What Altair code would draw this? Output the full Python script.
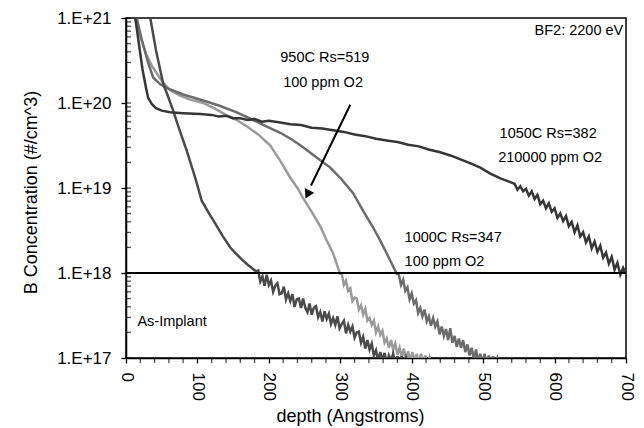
import altair as alt
import pandas as pd

# ---------------- data ----------------
series_names = ["As-Implant", "950C", "1000C", "1050C"]
series_colors = ["#4a4a4a", "#9a9a9a", "#6c6c6c", "#363636"]

asimp_depth = [28, 34, 42, 52, 60, 66, 75, 85, 98, 106, 115, 125, 135, 146, 155, 162, 170, 176, 182,
               185, 188, 191, 194, 197, 200, 203, 206, 209, 212, 215, 218, 221, 224, 227, 230, 233,
               236, 239, 242, 245, 248, 251, 254, 257, 260, 263, 266, 269, 272, 275, 278, 281, 284,
               287, 290, 293, 296, 299, 302, 305, 308, 311, 314, 317, 320, 323, 326, 329, 332, 335,
               338, 341, 344, 347, 350, 353, 356, 359, 362, 365, 368, 371, 374, 377, 380, 383, 386,
               389, 392, 395, 398]
asimp_log = [21.1, 21.0, 20.62, 20.23, 20.05, 19.91, 19.68, 19.44, 19.09, 18.85, 18.72, 18.58, 18.44,
             18.30, 18.22, 18.16, 18.10, 18.06, 18.02,
             18.03, 17.90, 17.96, 17.85, 17.98, 17.86, 17.91, 17.78, 17.85, 17.88, 17.75, 17.76,
             17.84, 17.69, 17.76, 17.67, 17.75, 17.60, 17.69, 17.70, 17.59, 17.70, 17.59, 17.54,
             17.64, 17.51, 17.59, 17.61, 17.48, 17.54, 17.43, 17.55, 17.46, 17.52, 17.40, 17.47,
             17.39, 17.49, 17.35, 17.40, 17.44, 17.29, 17.39, 17.31, 17.37, 17.24, 17.30, 17.31,
             17.18, 17.25, 17.11, 17.21, 17.10, 17.17, 17.03, 17.09, 16.97, 17.07, 16.97, 17.06,
             16.93, 17.03, 16.97, 17.05, 16.93, 17.02, 16.91, 17.02, 16.91, 17.00, 16.90, 16.98]

c950_depth = [11, 13, 20, 28, 36, 43, 52, 62, 75, 90, 108, 125, 140, 155, 170, 185, 202, 216, 230,
              240, 248, 260, 272, 280, 290, 296, 300,
              302, 305, 308, 311, 314, 317, 320, 323, 326, 329, 332, 335, 338, 341, 344, 347, 350,
              353, 356, 359, 362, 365, 368, 371, 374, 377, 380, 383, 386, 389, 392, 395, 398, 401,
              404, 407, 410, 413, 416, 419, 422, 425, 428]
c950_log = [21.15, 21.0, 20.78, 20.58, 20.44, 20.35, 20.24, 20.15, 20.09, 20.04, 20.0, 19.93, 19.86,
            19.80, 19.72, 19.63, 19.50, 19.32, 19.12, 19.0, 18.88, 18.72, 18.55, 18.40, 18.23,
            18.08, 17.99,
            17.99, 17.86, 17.91, 17.79, 17.82, 17.67, 17.71, 17.70, 17.57, 17.62, 17.51, 17.58,
            17.44, 17.47, 17.39, 17.44, 17.30, 17.37, 17.27, 17.32, 17.18, 17.23, 17.12, 17.21,
            17.10, 17.17, 17.04, 17.12, 17.01, 17.11, 16.98, 17.08, 16.96, 17.07, 16.95, 17.05,
            16.94, 17.05, 16.93, 17.03, 16.93, 17.01, 16.90]

c1000_depth = [12, 15, 22, 30, 38, 48, 59, 80, 108, 130, 155, 178, 198, 216, 232, 248, 265, 286,
               302, 318, 332, 345, 356, 368, 379,
               382, 385, 388, 391, 394, 397, 400, 403, 406, 409, 412, 415, 418, 421, 424, 427, 430,
               433, 436, 439, 442, 445, 448, 451, 454, 457, 460, 463, 466, 469, 472, 475, 478, 481,
               484, 487, 490, 493, 496, 499, 502, 505, 508, 511, 514, 517, 520, 524]
c1000_log = [21.15, 21.0, 20.75, 20.5, 20.30, 20.22, 20.17, 20.10, 20.03, 19.97, 19.89, 19.80,
             19.72, 19.65, 19.57, 19.48, 19.37, 19.24, 19.10, 18.94, 18.73, 18.55, 18.38, 18.18,
             17.99,
             17.98, 17.86, 17.92, 17.79, 17.83, 17.69, 17.76, 17.64, 17.68, 17.53, 17.59, 17.49,
             17.57, 17.43, 17.49, 17.38, 17.47, 17.37, 17.43, 17.28, 17.37, 17.26, 17.34, 17.21,
             17.35, 17.18, 17.26, 17.13, 17.23, 17.12, 17.21, 17.07, 17.16, 17.03, 17.12, 16.98,
             17.10, 16.96, 17.05, 16.94, 17.05, 16.93, 17.03, 16.92, 17.02, 16.92, 17.00, 16.90]

c1050_depth = [10, 13, 18, 23, 28, 31, 36, 42, 50, 62, 80, 104, 120, 130, 140, 150, 160, 170, 180,
               190, 200, 216, 230, 245, 260, 275, 290, 305, 320, 335, 350, 365, 380, 395, 410, 425,
               440, 455, 470, 485, 496, 510, 525,
               544, 548, 552, 556, 560, 564, 568, 572, 576, 580, 584, 588, 592, 596, 600, 604, 608,
               612, 616, 620, 624, 628, 632, 636, 640, 644, 648, 652, 656, 660, 664, 668, 672, 676,
               680, 684, 688, 692, 696, 700]
c1050_log = [21.15, 21.0, 20.7, 20.4, 20.18, 20.06, 19.99, 19.94, 19.91, 19.89, 19.88, 19.87, 19.86,
             19.84, 19.85, 19.82, 19.82, 19.80, 19.81, 19.78, 19.79, 19.77, 19.75, 19.74, 19.71,
             19.70, 19.68, 19.66, 19.63, 19.61, 19.58, 19.56, 19.54, 19.51, 19.49, 19.45, 19.42,
             19.38, 19.33, 19.28, 19.24, 19.17, 19.11,
             19.05, 18.98, 19.02, 18.96, 18.99, 18.91, 18.96, 18.87, 18.92, 18.81, 18.85, 18.76,
             18.82, 18.72, 18.76, 18.65, 18.70, 18.61, 18.67, 18.55, 18.60, 18.48, 18.56, 18.43,
             18.48, 18.36, 18.43, 18.29, 18.37, 18.25, 18.32, 18.18, 18.24, 18.11, 18.19, 18.04,
             18.12, 17.98, 18.06, 17.99]

x_major = [0, 100, 200, 300, 400, 500, 600, 700]
x_minor = [20, 40, 60, 80, 120, 140, 160, 180, 220, 240, 260, 280, 320, 340, 360, 380, 420, 440,
           460, 480, 520, 540, 560, 580, 620, 640, 660, 680]
y_major = [1e17, 1e18, 1e19, 1e20, 1e21]
y_minor = [2e17, 3e17, 4e17, 5e17, 6e17, 7e17, 8e17, 9e17,
           2e18, 3e18, 4e18, 5e18, 6e18, 7e18, 8e18, 9e18,
           2e19, 3e19, 4e19, 5e19, 6e19, 7e19, 8e19, 9e19,
           2e20, 3e20, 4e20, 5e20, 6e20, 7e20, 8e20, 9e20]

ref_level = [1e18]

ann_text = ["BF2: 2200 eV", "950C Rs=519", "100 ppm O2", "1050C Rs=382", "210000 ppm O2",
            "1000C Rs=347", "100 ppm O2", "As-Implant"]
ann_depth = [572, 216, 220, 523, 521, 390, 390, 16]
ann_log = [20.85, 20.53, 20.24, 19.63, 19.35, 18.41, 18.13, 17.42]

arrow_from = (314, 19.98)
arrow_to = (259, 19.03)
arrow_head = (255, 18.94)

# ---------------- tables ----------------
rows = []
for name, ds, ls in [("950C", c950_depth, c950_log), ("1000C", c1000_depth, c1000_log),
                     ("As-Implant", asimp_depth, asimp_log), ("1050C", c1050_depth, c1050_log)]:
    for i, (d, l) in enumerate(zip(ds, ls)):
        rows.append({"series": name, "depth": d, "conc": 10 ** l, "i": i})
df = pd.DataFrame(rows)

ann_df = pd.DataFrame({"label": ann_text, "depth": ann_depth, "conc": [10 ** v for v in ann_log]})
ref_df = pd.DataFrame({"conc": ref_level})
arrow_df = pd.DataFrame({"x": [arrow_from[0]], "y": [10 ** arrow_from[1]],
                         "x2": [arrow_to[0]], "y2": [10 ** arrow_to[1]]})
head_df = pd.DataFrame({"x": [arrow_head[0]], "y": [10 ** arrow_head[1]]})
xminor_df = pd.DataFrame({"depth": x_minor})
yminor_df = pd.DataFrame({"conc": y_minor + y_major})

FONT = "Liberation Sans"

x_enc = alt.X("depth:Q",
              scale=alt.Scale(domain=[0, 700], nice=False, zero=False),
              axis=alt.Axis(values=x_major, format="d",
                            labelAngle=90, labelOverlap=False, labelFlush=False,
                            labelPadding=9, tickSize=5, grid=False,
                            title="depth (Angstroms)", titleX=224, titleY=63,
                            titleBaseline="alphabetic", titleAlign="center"))
y_enc = alt.Y("conc:Q",
              scale=alt.Scale(type="log", domain=[1e17, 1e21], nice=False),
              axis=alt.Axis(values=y_major,
                            labelExpr="'1.E+' + round(log(datum.value)/LN10)",
                            labelOverlap=False, labelFlush=False, labelPadding=10, tickSize=5,
                            grid=False, title="B Concentration (#/cm^3)",
                            titleX=-95, titleY=174, titleAngle=-90, titleAlign="center",
                            titleBaseline="middle"))

lines = alt.Chart(df).mark_line(clip=True, strokeWidth=2.5, strokeJoin="miter").encode(
    x=x_enc, y=y_enc,
    color=alt.Color("series:N", scale=alt.Scale(domain=series_names, range=series_colors), legend=None),
    order="i:Q",
)

xminor = alt.Chart(xminor_df).mark_tick(color="black", thickness=1.3, size=5).encode(
    x="depth:Q", y=alt.value(342.5))
yminor = alt.Chart(yminor_df).mark_tick(color="black", thickness=1.3, size=5).encode(
    y="conc:Q", x=alt.value(2.5))

rule = alt.Chart(ref_df).mark_rule(color="black", strokeWidth=2).encode(y="conc:Q")

arrow = alt.Chart(arrow_df).mark_rule(color="black", strokeWidth=2).encode(
    x="x:Q", y="y:Q", x2="x2:Q", y2="y2:Q")
head = alt.Chart(head_df).mark_point(shape="triangle", filled=True, size=110, angle=206,
                                     color="black", opacity=1).encode(x="x:Q", y="y:Q")

texts = alt.Chart(ann_df).mark_text(align="left", baseline="middle", font=FONT, fontSize=14.5,
                                    color="black").encode(x="depth:Q", y="conc:Q", text="label:N")

chart = alt.layer(lines, xminor, yminor, rule, arrow, head, texts).properties(
    width=500, height=340,
    background="white",
    autosize=alt.AutoSizeParams(type="none"),
    padding={"left": 126, "top": 18, "right": 18, "bottom": 70},
).configure_view(stroke="black", strokeWidth=1.5).configure_axis(
    domainColor="black", tickColor="black", labelColor="black", titleColor="black",
    labelFont=FONT, titleFont=FONT, labelFontSize=17, titleFontSize=18, titleFontWeight="normal",
    domainWidth=1.5, tickWidth=1.3,
)

chart.save("out.html", embed_options={"renderer": "svg", "actions": False})
